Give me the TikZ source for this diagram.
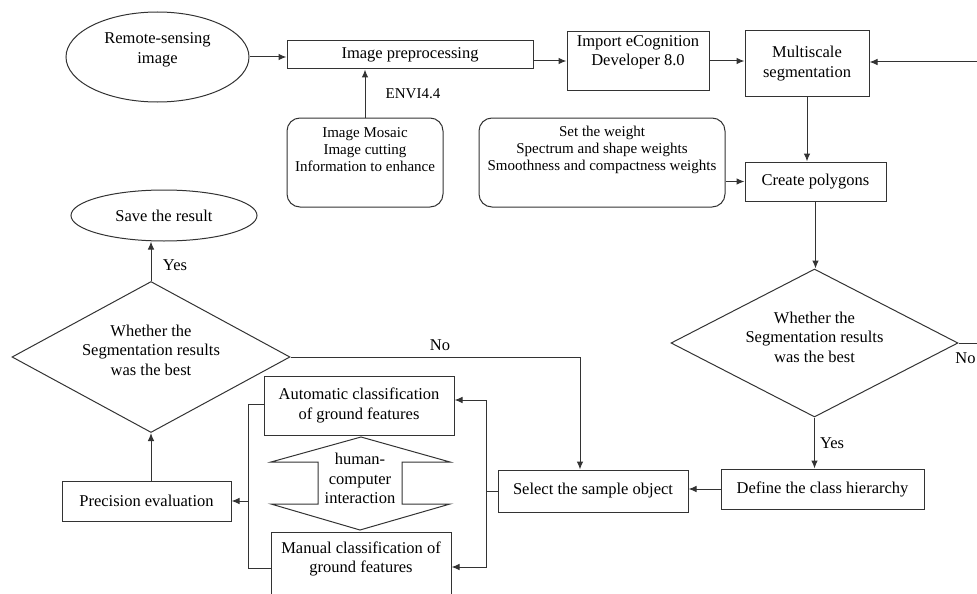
\documentclass[tikz,border=0pt]{standalone}
\usepackage{fontspec}
\setmainfont{Liberation Serif}
\usetikzlibrary{shapes.geometric,arrows.meta,positioning,calc}

\begin{document}
\begin{tikzpicture}[x=1pt,y=-1pt,line width=1pt,
	every node/.style={font=\rmfamily\fontsize{16.5}{19.5}\selectfont,align=center,inner sep=0pt},
	box/.style={draw=black!80,rectangle},
	roundbox/.style={draw=black!80,rectangle,rounded corners=13pt},
	oval/.style={draw=black!80,ellipse},
	decision/.style={draw=black!80,diamond,aspect=1.9},
	small/.style={font=\rmfamily\fontsize{15}{17}\selectfont},
	arr/.style={-{Latex[length=8pt,width=6.5pt]},draw=black!80}]
	\useasboundingbox (0,0) rectangle (977,594);
	
	% top row
	\node[oval,minimum width=183,minimum height=90] (remote) at (157.5,57) {};
	\node (remote text) at (157.5,50) {Remote-sensing\\image};
	\node[box,minimum width=246,minimum height=28] (prep) at (410,55) {Image preprocessing};
	\node[box,minimum width=142,minimum height=58] (import) at (638,61) {};
	\node (import text) at (638,52.5) {Import eCognition\\Developer 8.0};
	\node[box,minimum width=124,minimum height=65] (multi) at (807,63.5) {Multiscale\\segmentation};
	
	\node[roundbox,minimum width=156,minimum height=89] (mosaic) at (365,162.5) {};
	\node[small] (mosaic text) at (365,150) {Image Mosaic\\Image cutting\\Information to enhance};
	\node[small] (envi) at (413,94) {ENVI4.4};
	\node[roundbox,minimum width=246,minimum height=89] (weight) at (602,162.5) {};
	\node[small] (weight text) at (602,150) {Set the weight\\Spectrum and shape weights\\Smoothness and compactness weights};
	\node[box,minimum width=141,minimum height=39] (poly) at (815.5,181.5) {Create polygons};
	
	% right decision
	\node[decision,minimum width=287,minimum height=148] (segok) at (814.5,343) {};
	\node (segok text) at (814.5,337) {Whether the\\Segmentation results\\was the best};
	\node[box,minimum width=203,minimum height=40] (define) at (822.5,489) {Define the class hierarchy};
	\node[box,minimum width=190,minimum height=42] (select) at (593,491) {Select the sample object};
	
	% classification
	\node[box,minimum width=190,minimum height=59] (auto) at (359,405.5) {Automatic classification\\of ground features};
	\node[box,minimum width=180,minimum height=92] (manual) at (361,578) {};
	\node (manual text) at (361,559) {Manual classification of\\ground features};
	\draw[draw=black!80] (361,437) -- (450,462) -- (402,462) -- (402,504) -- (450,504) -- (360,530)
		-- (271,504) -- (318,504) -- (318,462) -- (271,462) -- cycle;
	\node (hci) at (360,478.5) {human-\\computer\\interaction};
	
	% left column
	\node[box,minimum width=169,minimum height=40] (precision) at (146.5,501) {Precision evaluation};
	\node[decision,minimum width=278,minimum height=151] (resok) at (151,357) {};
	\node (resok text) at (151,350) {Whether the\\Segmentation results\\was the best};
	\node[oval,minimum width=186,minimum height=51] (save) at (164,215.5) {Save the result};
	
	\node (yes1) at (175,265) {Yes};
	\node (no1) at (440,345) {No};
	\node (yes2) at (832,443) {Yes};
	\node[anchor=east] (no2) at (976,358) {No};
	
	\coordinate (back) at (977,62);
	\coordinate (out) at (977,343);
	\coordinate (nturn) at (580,357);
	\coordinate (rtop) at (486,400);
	\coordinate (rbot) at (486,567);
	\coordinate (ltop) at (248,404);
	\coordinate (lbot) at (248,568);
	\coordinate (lmid) at (248,501);
	
	% connectors
	\draw[arr] (remote.east) -- (remote.east -| prep.west);
	\draw[arr] (prep.east |- import.west) -- (import.west);
	\draw[arr] (import.east) -- (multi.west |- import.east);
	\draw[arr] (back) -- (multi.east |- back);
	\draw[arr] (multi.south) -- (multi.south |- poly.north);
	\draw[arr] (mosaic.north) -- (mosaic.north |- prep.south);
	\draw[arr] (weight.east |- poly.west) -- (poly.west);
	\draw[arr] (poly.south) -- (poly.south |- segok.north);
	\draw[arr] (segok.south) -- (segok.south |- define.north);
	\draw[draw=black!80] (segok.east) -- (out);
	\draw[arr] (define.west) -- (select.east |- define.west);
	\draw[arr] (resok.east) -- (nturn) -- (nturn |- select.north);
	\draw[arr] (select.west) -| (rtop) -- (rtop -| auto.east);
	\draw[arr] (select.west) -| (rbot) -- (rbot -| manual.east);
	\draw[draw=black!80] (auto.west |- ltop) -- (ltop) -- (lbot) -- (lbot -| manual.west);
	\draw[arr] (lmid) -- (precision.east);
	\draw[arr] (resok.south |- precision.north) -- (resok.south);
	\draw[arr] (resok.north) -- (resok.north |- save.south);
\end{tikzpicture}
\end{document}
